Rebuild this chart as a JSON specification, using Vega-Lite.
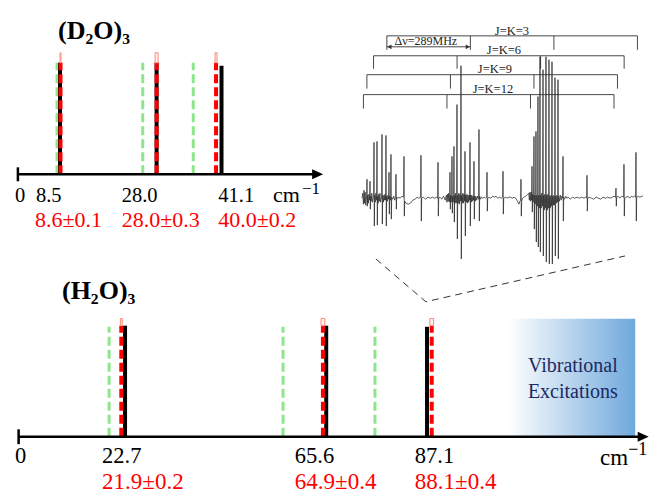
{
 "$schema": "https://vega.github.io/schema/vega-lite/v6.json",
 "width": 653, "height": 494,
 "autosize": {"type": "fit", "contains": "padding"},
 "padding": 0,
 "background": "white",
 "config": {"view": {"stroke": null}, "text": {"font": "Liberation Serif"}},
 "datasets": {
  "d2o": [
   {"kind": "origin", "v": 0, "label": "0", "lx": -0.6},
   {"kind": "calc", "v": 8.5, "base": 0, "top": 1.0, "label": "8.5", "lx": 3.65},
   {"kind": "calc", "v": 28.0, "base": 0, "top": 1.0, "label": "28.0", "lx": 20.95},
   {"kind": "calc", "v": 41.1, "base": 0, "top": 0.973, "label": "41.1", "lx": 40.45},
   {"kind": "exp", "v": 8.6, "err": 0.1, "lo": 8.5, "hi": 8.7, "base": 0, "top": 1.0, "etop": 1.09, "label": "8.6±0.1", "lx": 3.45},
   {"kind": "exp", "v": 28.0, "err": 0.3, "lo": 27.7, "hi": 28.3, "base": 0, "top": 1.0, "etop": 1.09, "label": "28.0±0.3", "lx": 20.95},
   {"kind": "exp", "v": 40.0, "err": 0.2, "lo": 39.8, "hi": 40.2, "base": 0, "top": 1.0, "etop": 1.09, "label": "40.0±0.2", "lx": 40.45},
   {"kind": "other", "v": 7.9, "base": 0, "top": 1.0},
   {"kind": "other", "v": 25.2, "base": 0, "top": 1.0},
   {"kind": "other", "v": 35.4, "base": 0, "top": 1.0}
  ],
  "h2o": [
   {"kind": "origin", "v": 0, "label": "0", "lx": -0.77},
   {"kind": "calc", "v": 22.7, "base": 0, "top": 1.0, "label": "22.7", "lx": 17.8},
   {"kind": "calc", "v": 65.6, "base": 0, "top": 1.0, "label": "65.6", "lx": 58.9},
   {"kind": "calc", "v": 87.1, "base": 0, "top": 0.99, "label": "87.1", "lx": 84.5},
   {"kind": "exp", "v": 21.9, "err": 0.2, "lo": 21.7, "hi": 22.1, "base": 0, "top": 1.0, "etop": 1.065, "label": "21.9±0.2", "lx": 17.8},
   {"kind": "exp", "v": 64.9, "err": 0.4, "lo": 64.5, "hi": 65.3, "base": 0, "top": 1.0, "etop": 1.065, "label": "64.9±0.4", "lx": 58.9},
   {"kind": "exp", "v": 88.1, "err": 0.4, "lo": 87.7, "hi": 88.5, "base": 0, "top": 1.0, "etop": 1.065, "label": "88.1±0.4", "lx": 84.5},
   {"kind": "other", "v": 19.3, "base": 0, "top": 0.99},
   {"kind": "other", "v": 56.4, "base": 0, "top": 0.99},
   {"kind": "other", "v": 76.0, "base": 0, "top": 0.99}
  ],
  "spectrum": [
   {"f":0,"I":0},{"f":3,"I":0.05},{"f":5,"I":-0.06},{"f":7,"I":0.08},{"f":9,"I":-0.05},{"f":11,"I":0.06},{"f":13,"I":-0.07},
   {"f":16.1,"I":0.02},{"f":17.3,"I":0.19},{"f":18.5,"I":-0.08},{"f":19.7,"I":0.03},{"f":22,"I":-0.05},{"f":24,"I":0.04},
   {"f":26.5,"I":-0.02},{"f":27.7,"I":0.17},{"f":28.9,"I":-0.11},{"f":30.1,"I":0.02},{"f":32,"I":-0.03},{"f":34,"I":0.05},{"f":36,"I":-0.04},
   {"f":40.3,"I":0.02},{"f":41.5,"I":0.56},{"f":42.7,"I":-0.28},{"f":43.9,"I":0.03},{"f":46,"I":-0.04},{"f":48,"I":0.05},
   {"f":50.7,"I":-0.02},{"f":51.9,"I":0.57},{"f":53.1,"I":-0.27},{"f":54.3,"I":0.02},{"f":56,"I":-0.05},{"f":58,"I":0.04},{"f":60,"I":-0.03},{"f":62,"I":0.05},{"f":64,"I":-0.04},
   {"f":68,"I":0.02},{"f":69.2,"I":0.64},{"f":70.4,"I":-0.26},{"f":71.6,"I":0.03},{"f":74,"I":-0.04},{"f":76,"I":0.03},{"f":78,"I":-0.02},{"f":80,"I":0.04},
   {"f":81.8,"I":-0.02},{"f":83.0,"I":0.63},{"f":84.2,"I":-0.28},{"f":85.4,"I":0.02},{"f":88,"I":-0.03},{"f":90,"I":0.03},
   {"f":92.2,"I":-0.01},{"f":93.4,"I":0.26},{"f":94.6,"I":-0.16},{"f":95.8,"I":0.02},{"f":98,"I":-0.02},
   {"f":99.1,"I":0.01},{"f":100.3,"I":0.44},{"f":101.5,"I":-0.21},{"f":102.7,"I":0.01},{"f":106,"I":-0.01},{"f":110,"I":0.02},{"f":113,"I":-0.02},
   {"f":116.4,"I":0.01},{"f":117.6,"I":0.24},{"f":118.8,"I":-0.11},{"f":120,"I":0.01},{"f":124,"I":0},{"f":128,"I":0.01},{"f":132,"I":0},{"f":138,"I":0.02},
   {"f":144.1,"I":0.01},{"f":145.3,"I":0.42},{"f":146.5,"I":-0.18},{"f":147.7,"I":-0.03},{"f":152,"I":-0.05},{"f":160,"I":-0.06},{"f":168,"I":-0.05},{"f":176,"I":-0.02},{"f":184,"I":-0.01},{"f":190,"I":0.01},{"f":196,"I":0},
   {"f":202.9,"I":0.01},{"f":204.1,"I":0.43},{"f":205.3,"I":-0.23},{"f":206.5,"I":0},{"f":212,"I":0.01},{"f":220,"I":-0.01},{"f":228,"I":0.01},{"f":236,"I":0},{"f":244,"I":0.01},{"f":252,"I":0},{"f":258,"I":0.01},
   {"f":261.8,"I":0},{"f":263.0,"I":0.36},{"f":264.2,"I":-0.18},{"f":265.4,"I":0},{"f":270,"I":0.01},{"f":276,"I":-0.01},{"f":282,"I":0.02},{"f":288,"I":-0.02},
   {"f":292,"I":0.03},{"f":294,"I":-0.04},{"f":296,"I":0.04},{"f":298,"I":-0.03},{"f":300,"I":0.05},{"f":302,"I":-0.04},
   {"f":303.3,"I":0.02},{"f":304.5,"I":0.26},{"f":305.7,"I":-0.11},{"f":306.9,"I":0.03},{"f":308.5,"I":-0.04},
   {"f":310.2,"I":0.03},{"f":311.4,"I":0.42},{"f":312.6,"I":-0.15},{"f":313.8,"I":0.02},{"f":315.5,"I":-0.04},
   {"f":317.1,"I":0.03},{"f":318.3,"I":0.52},{"f":319.5,"I":-0.24},{"f":320.7,"I":0.03},{"f":322,"I":-0.05},{"f":324,"I":0.05},{"f":326,"I":-0.05},
   {"f":327.5,"I":0.03},{"f":328.7,"I":0.94},{"f":329.9,"I":-0.41},{"f":331.1,"I":0.03},{"f":333,"I":-0.05},{"f":335,"I":0.05},{"f":337,"I":-0.06},{"f":339,"I":0.04},
   {"f":341.3,"I":-0.03},{"f":342.5,"I":1.33},{"f":343.7,"I":-0.61},{"f":344.9,"I":0.03},{"f":347,"I":-0.05},{"f":349,"I":0.05},{"f":351,"I":-0.05},{"f":353,"I":0.04},
   {"f":355.2,"I":-0.03},{"f":356.4,"I":0.47},{"f":357.6,"I":-0.38},{"f":358.8,"I":0.03},{"f":361,"I":-0.04},{"f":363,"I":0.04},{"f":365,"I":-0.05},{"f":367,"I":0.03},{"f":369,"I":-0.04},{"f":371,"I":0.03},
   {"f":372.5,"I":-0.02},{"f":373.7,"I":0.56},{"f":374.9,"I":-0.28},{"f":376.1,"I":0.03},{"f":378,"I":-0.04},{"f":380,"I":0.03},{"f":382,"I":-0.03},{"f":384,"I":0.02},
   {"f":386.3,"I":-0.02},{"f":387.5,"I":0.37},{"f":388.7,"I":-0.21},{"f":389.9,"I":0.02},{"f":392,"I":-0.03},{"f":394,"I":0.02},{"f":397,"I":-0.02},{"f":400,"I":0.02},
   {"f":403.6,"I":-0.01},{"f":404.8,"I":0.69},{"f":406,"I":-0.23},{"f":407.2,"I":0.02},{"f":410,"I":-0.01},{"f":414,"I":0.01},{"f":418,"I":0},{"f":423,"I":0.01},{"f":428,"I":0},
   {"f":431.3,"I":0.01},{"f":432.5,"I":0.26},{"f":433.7,"I":-0.13},{"f":434.9,"I":0},{"f":440,"I":0.01},{"f":446,"I":0},{"f":452,"I":0.02},{"f":458,"I":0.01},{"f":464,"I":0.02},{"f":470,"I":0},{"f":476,"I":0.01},{"f":482,"I":0},
   {"f":486.7,"I":0.01},{"f":487.9,"I":0.27},{"f":489.1,"I":-0.16},{"f":490.3,"I":0},{"f":496,"I":0.01},{"f":502,"I":0},{"f":508,"I":0.01},{"f":514,"I":0.01},{"f":520,"I":0},{"f":526,"I":0.01},{"f":532,"I":0},{"f":538,"I":-0.03},{"f":543,"I":-0.06},{"f":546,"I":-0.03},
   {"f":548.9,"I":-0.02},{"f":550.1,"I":0.19},{"f":551.3,"I":-0.18},{"f":552.5,"I":-0.03},{"f":556,"I":0},{"f":560,"I":0.01},{"f":566,"I":0.02},{"f":570,"I":0.03},{"f":574,"I":0.04},{"f":577,"I":0.05},{"f":579,"I":-0.02},{"f":581,"I":0.06},{"f":583,"I":-0.03},{"f":585,"I":0.06},
   {"f":587,"I":-0.02},{"f":588.2,"I":0.32},{"f":589.4,"I":-0.14},{"f":590.6,"I":0.04},{"f":592.5,"I":-0.04},
   {"f":593.9,"I":0.04},{"f":595.1,"I":0.62},{"f":596.3,"I":-0.31},{"f":597.5,"I":0.03},{"f":599.5,"I":-0.06},
   {"f":600.8,"I":0.04},{"f":602.0,"I":0.67},{"f":603.2,"I":-0.44},{"f":604.4,"I":0.03},{"f":606.5,"I":-0.08},
   {"f":607.7,"I":0.03},{"f":608.9,"I":1.02},{"f":610.1,"I":-0.49},{"f":611.3,"I":0.03},{"f":613.5,"I":-0.1},
   {"f":614.7,"I":0.04},{"f":615.9,"I":1.42},{"f":617.1,"I":-0.54},{"f":618.3,"I":0.03},{"f":620,"I":-0.1},{"f":622,"I":0.05},{"f":624,"I":-0.08},
   {"f":625.1,"I":0.03},{"f":626.3,"I":1.29},{"f":627.5,"I":-0.58},{"f":628.7,"I":0.03},{"f":630.5,"I":-0.12},{"f":632.5,"I":0.04},{"f":634.5,"I":-0.1},
   {"f":635.4,"I":0.03},{"f":636.6,"I":1.42},{"f":637.8,"I":-0.64},{"f":639,"I":0.03},{"f":641,"I":-0.12},{"f":643,"I":0.04},{"f":645,"I":-0.1},
   {"f":645.8,"I":0.03},{"f":647,"I":1.39},{"f":648.2,"I":-0.66},{"f":649.4,"I":0.02},{"f":651.5,"I":-0.1},{"f":653.5,"I":0.03},{"f":655.5,"I":-0.08},
   {"f":656.2,"I":0.03},{"f":657.4,"I":1.37},{"f":658.6,"I":-0.66},{"f":659.8,"I":0.02},{"f":662,"I":-0.07},{"f":664,"I":0.03},{"f":666,"I":-0.07},
   {"f":666.9,"I":0.02},{"f":667.8,"I":1.21},{"f":669,"I":-0.58},{"f":670.2,"I":0.02},{"f":672.5,"I":-0.05},{"f":674.5,"I":0.03},{"f":676.5,"I":-0.04},
   {"f":677.3,"I":0.02},{"f":678.2,"I":1.19},{"f":679.4,"I":-0.61},{"f":680.6,"I":0.02},{"f":683,"I":-0.03},{"f":686,"I":0.03},{"f":689,"I":-0.02},{"f":692,"I":0.02},
   {"f":694.3,"I":0},{"f":695.5,"I":0.42},{"f":696.7,"I":-0.23},{"f":697.9,"I":0.01},{"f":701,"I":-0.01},{"f":705,"I":0.02},{"f":709,"I":0},{"f":714,"I":0.01},{"f":720,"I":-0.01},{"f":728,"I":0.01},{"f":736,"I":0},{"f":744,"I":0.01},{"f":752,"I":0},{"f":760,"I":0.01},{"f":768,"I":0},{"f":774,"I":0.01},
   {"f":777.3,"I":0},{"f":778.5,"I":0.23},{"f":779.7,"I":-0.13},{"f":780.9,"I":0},{"f":786,"I":0.01},{"f":794,"I":0},{"f":802,"I":-0.01},{"f":810,"I":0.01},{"f":818,"I":0},{"f":826,"I":-0.01},{"f":834,"I":0.01},{"f":842,"I":0},{"f":850,"I":0.01},{"f":858,"I":0},{"f":866,"I":0.01},{"f":872,"I":0.02},
   {"f":877.6,"I":0.01},{"f":878.8,"I":0.10},{"f":880,"I":-0.08},{"f":881.2,"I":0.01},{"f":886,"I":0.02},{"f":892,"I":0},{"f":898,"I":0.02},
   {"f":905.3,"I":0.01},{"f":906.5,"I":0.34},{"f":907.7,"I":-0.18},{"f":908.9,"I":0},{"f":914,"I":0.01},{"f":920,"I":0.02},{"f":926,"I":0},{"f":932,"I":0.02},{"f":938,"I":0.01},{"f":943,"I":0.02},
   {"f":946.8,"I":0.01},{"f":948,"I":0.46},{"f":949.2,"I":-0.23},{"f":950.4,"I":0.01},{"f":956,"I":0.02},{"f":962,"I":0.01},{"f":968,"I":0.02},{"f":972,"I":0.02}
  ],
  "brackets": [
   {"J": "J=K=3", "f1": 86, "f2": 953, "y": 1.63, "lf": 519, "ly": 1.68},
   {"J": "J=K=6", "f1": 40, "f2": 907, "y": 1.43, "lf": 491, "ly": 1.49},
   {"J": "J=K=9", "f1": 17, "f2": 884, "y": 1.24, "lf": 460, "ly": 1.30},
   {"J": "J=K=12", "f1": 5, "f2": 872, "y": 1.04, "lf": 453, "ly": 1.10}
  ],
  "drops": [
   {"J": "J=K=3", "f": 86, "y": 1.63, "ylo": 1.49},
   {"J": "J=K=3", "f": 375, "y": 1.63, "ylo": 1.49},
   {"J": "J=K=3", "f": 664, "y": 1.63, "ylo": 1.49},
   {"J": "J=K=3", "f": 953, "y": 1.63, "ylo": 1.49},
   {"J": "J=K=6", "f": 40, "y": 1.43, "ylo": 1.30},
   {"J": "J=K=6", "f": 329, "y": 1.43, "ylo": 1.30},
   {"J": "J=K=6", "f": 618, "y": 1.43, "ylo": 1.30},
   {"J": "J=K=6", "f": 907, "y": 1.43, "ylo": 1.30},
   {"J": "J=K=9", "f": 17, "y": 1.24, "ylo": 1.10},
   {"J": "J=K=9", "f": 306, "y": 1.24, "ylo": 1.10},
   {"J": "J=K=9", "f": 595, "y": 1.24, "ylo": 1.10},
   {"J": "J=K=9", "f": 884, "y": 1.24, "ylo": 1.10},
   {"J": "J=K=12", "f": 5, "y": 1.04, "ylo": 0.90},
   {"J": "J=K=12", "f": 294, "y": 1.04, "ylo": 0.90},
   {"J": "J=K=12", "f": 583, "y": 1.04, "ylo": 0.90},
   {"J": "J=K=12", "f": 872, "y": 1.04, "ylo": 0.90}
  ],
  "delta": [{"f1": 86, "f2": 375, "y": 1.52, "fl": 95, "fr": 366, "lf": 221, "ly": 1.575, "label": "Δν=289MHz"}],
  "zoomline": [{"f": 48, "I": -0.61}, {"f": 221, "I": -1.04}, {"f": 910, "I": -0.58}],
  "one": [{"n": 1}]
 },
 "resolve": {"scale": {"x": "independent", "y": "independent"}},
 "layer": [
    {"data": {"name": "d2o"}, "transform": [{"filter": "datum.kind === 'other'"}],
     "mark": {"type": "rule", "color": "#8ee58e", "strokeWidth": 3, "strokeDash": [9, 4]},
     "encoding": {"x": {"field": "v", "type": "quantitative", "scale": {"domain": [-3.613, 128.2], "nice": false, "zero": false}, "axis": null},
      "y": {"field": "base", "type": "quantitative", "scale": {"domain": [-2.848, 1.5625], "nice": false, "zero": false}, "axis": null},
      "y2": {"field": "top"}}},
    {"data": {"name": "d2o"}, "transform": [{"filter": "datum.kind === 'calc'"}],
     "mark": {"type": "rule", "color": "#000000", "strokeWidth": 4},
     "encoding": {"x": {"field": "v", "type": "quantitative", "scale": {"domain": [-3.613, 128.2], "nice": false, "zero": false}, "axis": null},
      "y": {"field": "base", "type": "quantitative", "scale": {"domain": [-2.848, 1.5625], "nice": false, "zero": false}, "axis": null},
      "y2": {"field": "top"}}},
    {"data": {"name": "d2o"}, "transform": [{"filter": "datum.kind === 'exp'"}],
     "mark": {"type": "rule", "color": "#ff0000", "strokeWidth": 4, "strokeDash": [9, 4]},
     "encoding": {"x": {"field": "v", "type": "quantitative", "scale": {"domain": [-3.613, 128.2], "nice": false, "zero": false}, "axis": null},
      "y": {"field": "base", "type": "quantitative", "scale": {"domain": [-2.848, 1.5625], "nice": false, "zero": false}, "axis": null},
      "y2": {"field": "top"}}},
    {"data": {"name": "d2o"}, "transform": [{"filter": "datum.kind === 'exp'"}],
     "mark": {"type": "rect", "fill": "#fff0ee", "stroke": "#ff8a7a", "strokeWidth": 1},
     "encoding": {"x": {"field": "lo", "type": "quantitative", "scale": {"domain": [-3.613, 128.2], "nice": false, "zero": false}, "axis": null},
      "x2": {"field": "hi"},
      "y": {"field": "top", "type": "quantitative", "scale": {"domain": [-2.848, 1.5625], "nice": false, "zero": false}, "axis": null},
      "y2": {"field": "etop"}}},
    {"data": {"name": "one"},
     "mark": {"type": "rule", "color": "#000000", "strokeWidth": 2.5},
     "encoding": {"x": {"datum": 0, "type": "quantitative", "scale": {"domain": [-3.613, 128.2], "nice": false, "zero": false}, "axis": null},
      "x2": {"datum": 60.6},
      "y": {"datum": 0, "type": "quantitative", "scale": {"domain": [-2.848, 1.5625], "nice": false, "zero": false}, "axis": null}}},
    {"data": {"name": "one"},
     "mark": {"type": "rule", "color": "#000000", "strokeWidth": 2.5},
     "encoding": {"x": {"datum": 0, "type": "quantitative", "scale": {"domain": [-3.613, 128.2], "nice": false, "zero": false}, "axis": null},
      "y": {"datum": -0.0625, "type": "quantitative", "scale": {"domain": [-2.848, 1.5625], "nice": false, "zero": false}, "axis": null},
      "y2": {"datum": 0.0625}}},
    {"data": {"name": "one"},
     "mark": {"type": "point", "shape": "M-1,-0.9L1,0L-1,0.9Z", "size": 121, "filled": true, "color": "#000000", "opacity": 1},
     "encoding": {"x": {"datum": 60.5, "type": "quantitative", "scale": {"domain": [-3.613, 128.2], "nice": false, "zero": false}, "axis": null},
      "y": {"datum": 0, "type": "quantitative", "scale": {"domain": [-2.848, 1.5625], "nice": false, "zero": false}, "axis": null}}},
    {"data": {"name": "d2o"}, "transform": [{"filter": "datum.kind === 'calc' || datum.kind === 'origin'"}],
     "mark": {"type": "text", "font": "Liberation Serif", "align": "left", "baseline": "alphabetic", "fontSize": 20.5, "color": "#000000"},
     "encoding": {"x": {"field": "lx", "type": "quantitative", "scale": {"domain": [-3.613, 128.2], "nice": false, "zero": false}, "axis": null},
      "y": {"datum": -0.25, "type": "quantitative", "scale": {"domain": [-2.848, 1.5625], "nice": false, "zero": false}, "axis": null},
      "text": {"field": "label", "type": "nominal"}}},
    {"data": {"name": "d2o"}, "transform": [{"filter": "datum.kind === 'exp'"}],
     "mark": {"type": "text", "font": "Liberation Serif", "align": "left", "baseline": "alphabetic", "fontSize": 22, "color": "#ff0000"},
     "encoding": {"x": {"field": "lx", "type": "quantitative", "scale": {"domain": [-3.613, 128.2], "nice": false, "zero": false}, "axis": null},
      "y": {"datum": -0.473, "type": "quantitative", "scale": {"domain": [-2.848, 1.5625], "nice": false, "zero": false}, "axis": null},
      "text": {"field": "label", "type": "nominal"}}},
    {"data": {"name": "one"},
     "mark": {"type": "text", "font": "Liberation Serif", "align": "left", "baseline": "alphabetic", "fontSize": 22, "color": "#000000", "text": "cm"},
     "encoding": {"x": {"datum": 51.5, "type": "quantitative", "scale": {"domain": [-3.613, 128.2], "nice": false, "zero": false}, "axis": null},
      "y": {"datum": -0.25, "type": "quantitative", "scale": {"domain": [-2.848, 1.5625], "nice": false, "zero": false}, "axis": null}}},
    {"data": {"name": "one"},
     "mark": {"type": "text", "font": "Liberation Serif", "align": "left", "baseline": "alphabetic", "fontSize": 17, "color": "#000000", "text": "−1"},
     "encoding": {"x": {"datum": 57.35, "type": "quantitative", "scale": {"domain": [-3.613, 128.2], "nice": false, "zero": false}, "axis": null},
      "y": {"datum": -0.179, "type": "quantitative", "scale": {"domain": [-2.848, 1.5625], "nice": false, "zero": false}, "axis": null}}},
    {"data": {"name": "one"},
     "mark": {"type": "text", "font": "Liberation Serif", "align": "left", "baseline": "alphabetic", "fontSize": 26, "fontWeight": "bold", "color": "#000000", "text": "(D₂O)₃"},
     "encoding": {"x": {"datum": 8.1, "type": "quantitative", "scale": {"domain": [-3.613, 128.2], "nice": false, "zero": false}, "axis": null},
      "y": {"datum": 1.214, "type": "quantitative", "scale": {"domain": [-2.848, 1.5625], "nice": false, "zero": false}, "axis": null}}},

    {"data": {"name": "one"},
     "mark": {"type": "rect", "fill": {"gradient": "linear", "x1": 0, "y1": 0, "x2": 1, "y2": 0, "stops": [{"offset": 0, "color": "#ffffff"}, {"offset": 1, "color": "#6fa8dc"}]}},
     "encoding": {"x": {"datum": 104.4, "type": "quantitative", "scale": {"domain": [-3.967, 135.29], "nice": false, "zero": false}, "axis": null},
      "x2": {"datum": 131.5},
      "y": {"datum": 0, "type": "quantitative", "scale": {"domain": [-0.4978, 3.9327], "nice": false, "zero": false}, "axis": null},
      "y2": {"datum": 1.063}}},
    {"data": {"name": "one"},
     "mark": {"type": "text", "font": "Liberation Serif", "align": "center", "baseline": "middle", "fontSize": 20, "color": "#1b2a63", "text": ["Vibrational", "Excitations"], "lineHeight": 26},
     "encoding": {"x": {"datum": 118.2, "type": "quantitative", "scale": {"domain": [-3.967, 135.29], "nice": false, "zero": false}, "axis": null},
      "y": {"datum": 0.641, "type": "quantitative", "scale": {"domain": [-0.4978, 3.9327], "nice": false, "zero": false}, "axis": null}}},
    {"data": {"name": "h2o"}, "transform": [{"filter": "datum.kind === 'other'"}],
     "mark": {"type": "rule", "color": "#8ee58e", "strokeWidth": 3, "strokeDash": [9, 4]},
     "encoding": {"x": {"field": "v", "type": "quantitative", "scale": {"domain": [-3.967, 135.29], "nice": false, "zero": false}, "axis": null},
      "y": {"field": "base", "type": "quantitative", "scale": {"domain": [-0.4978, 3.9327], "nice": false, "zero": false}, "axis": null},
      "y2": {"field": "top"}}},
    {"data": {"name": "h2o"}, "transform": [{"filter": "datum.kind === 'calc'"}],
     "mark": {"type": "rule", "color": "#000000", "strokeWidth": 4},
     "encoding": {"x": {"field": "v", "type": "quantitative", "scale": {"domain": [-3.967, 135.29], "nice": false, "zero": false}, "axis": null},
      "y": {"field": "base", "type": "quantitative", "scale": {"domain": [-0.4978, 3.9327], "nice": false, "zero": false}, "axis": null},
      "y2": {"field": "top"}}},
    {"data": {"name": "h2o"}, "transform": [{"filter": "datum.kind === 'exp'"}],
     "mark": {"type": "rule", "color": "#ff0000", "strokeWidth": 4, "strokeDash": [9, 4]},
     "encoding": {"x": {"field": "v", "type": "quantitative", "scale": {"domain": [-3.967, 135.29], "nice": false, "zero": false}, "axis": null},
      "y": {"field": "base", "type": "quantitative", "scale": {"domain": [-0.4978, 3.9327], "nice": false, "zero": false}, "axis": null},
      "y2": {"field": "top"}}},
    {"data": {"name": "h2o"}, "transform": [{"filter": "datum.kind === 'exp'"}],
     "mark": {"type": "rect", "fill": "#fff0ee", "stroke": "#ff8a7a", "strokeWidth": 1},
     "encoding": {"x": {"field": "lo", "type": "quantitative", "scale": {"domain": [-3.967, 135.29], "nice": false, "zero": false}, "axis": null},
      "x2": {"field": "hi"},
      "y": {"field": "top", "type": "quantitative", "scale": {"domain": [-0.4978, 3.9327], "nice": false, "zero": false}, "axis": null},
      "y2": {"field": "etop"}}},
    {"data": {"name": "one"},
     "mark": {"type": "rule", "color": "#000000", "strokeWidth": 2.5},
     "encoding": {"x": {"datum": 0, "type": "quantitative", "scale": {"domain": [-3.967, 135.29], "nice": false, "zero": false}, "axis": null},
      "x2": {"datum": 133.3},
      "y": {"datum": 0, "type": "quantitative", "scale": {"domain": [-0.4978, 3.9327], "nice": false, "zero": false}, "axis": null}}},
    {"data": {"name": "one"},
     "mark": {"type": "rule", "color": "#000000", "strokeWidth": 2.5},
     "encoding": {"x": {"datum": 0, "type": "quantitative", "scale": {"domain": [-3.967, 135.29], "nice": false, "zero": false}, "axis": null},
      "y": {"datum": -0.067, "type": "quantitative", "scale": {"domain": [-0.4978, 3.9327], "nice": false, "zero": false}, "axis": null},
      "y2": {"datum": 0.067}}},
    {"data": {"name": "one"},
     "mark": {"type": "point", "shape": "M-1,-0.9L1,0L-1,0.9Z", "size": 121, "filled": true, "color": "#000000", "opacity": 1},
     "encoding": {"x": {"datum": 133.2, "type": "quantitative", "scale": {"domain": [-3.967, 135.29], "nice": false, "zero": false}, "axis": null},
      "y": {"datum": 0, "type": "quantitative", "scale": {"domain": [-0.4978, 3.9327], "nice": false, "zero": false}, "axis": null}}},
    {"data": {"name": "h2o"}, "transform": [{"filter": "datum.kind === 'calc' || datum.kind === 'origin'"}],
     "mark": {"type": "text", "font": "Liberation Serif", "align": "left", "baseline": "alphabetic", "fontSize": 22.5, "color": "#000000"},
     "encoding": {"x": {"field": "lx", "type": "quantitative", "scale": {"domain": [-3.967, 135.29], "nice": false, "zero": false}, "axis": null},
      "y": {"datum": -0.238, "type": "quantitative", "scale": {"domain": [-0.4978, 3.9327], "nice": false, "zero": false}, "axis": null},
      "text": {"field": "label", "type": "nominal"}}},
    {"data": {"name": "h2o"}, "transform": [{"filter": "datum.kind === 'exp'"}],
     "mark": {"type": "text", "font": "Liberation Serif", "align": "left", "baseline": "alphabetic", "fontSize": 23, "color": "#ff0000"},
     "encoding": {"x": {"field": "lx", "type": "quantitative", "scale": {"domain": [-3.967, 135.29], "nice": false, "zero": false}, "axis": null},
      "y": {"datum": -0.468, "type": "quantitative", "scale": {"domain": [-0.4978, 3.9327], "nice": false, "zero": false}, "axis": null},
      "text": {"field": "label", "type": "nominal"}}},
    {"data": {"name": "one"},
     "mark": {"type": "text", "font": "Liberation Serif", "align": "left", "baseline": "alphabetic", "fontSize": 23, "color": "#000000", "text": "cm"},
     "encoding": {"x": {"datum": 124.0, "type": "quantitative", "scale": {"domain": [-3.967, 135.29], "nice": false, "zero": false}, "axis": null},
      "y": {"datum": -0.253, "type": "quantitative", "scale": {"domain": [-0.4978, 3.9327], "nice": false, "zero": false}, "axis": null}}},
    {"data": {"name": "one"},
     "mark": {"type": "text", "font": "Liberation Serif", "align": "left", "baseline": "alphabetic", "fontSize": 18, "color": "#000000", "text": "−1"},
     "encoding": {"x": {"datum": 130.0, "type": "quantitative", "scale": {"domain": [-3.967, 135.29], "nice": false, "zero": false}, "axis": null},
      "y": {"datum": -0.166, "type": "quantitative", "scale": {"domain": [-0.4978, 3.9327], "nice": false, "zero": false}, "axis": null}}},
    {"data": {"name": "one"},
     "mark": {"type": "text", "font": "Liberation Serif", "align": "left", "baseline": "alphabetic", "fontSize": 26, "fontWeight": "bold", "color": "#000000", "text": "(H₂O)₃"},
     "encoding": {"x": {"datum": 9.25, "type": "quantitative", "scale": {"domain": [-3.967, 135.29], "nice": false, "zero": false}, "axis": null},
      "y": {"datum": 1.242, "type": "quantitative", "scale": {"domain": [-0.4978, 3.9327], "nice": false, "zero": false}, "axis": null}}},

    {"data": {"name": "spectrum"},
     "mark": {"type": "line", "color": "#2a2a2a", "strokeWidth": 0.75},
     "encoding": {"x": {"field": "f", "type": "quantitative", "scale": {"domain": [-1252.5, 1006.9], "nice": false, "zero": false}, "axis": null},
      "y": {"field": "I", "type": "quantitative", "scale": {"domain": [-2.95, 1.99], "nice": false, "zero": false}, "axis": null}}},
    {"data": {"name": "brackets"},
     "mark": {"type": "rule", "color": "#333333", "strokeWidth": 0.9},
     "encoding": {"x": {"field": "f1", "type": "quantitative", "scale": {"domain": [-1252.5, 1006.9], "nice": false, "zero": false}, "axis": null},
      "x2": {"field": "f2"},
      "y": {"field": "y", "type": "quantitative", "scale": {"domain": [-2.95, 1.99], "nice": false, "zero": false}, "axis": null}}},
    {"data": {"name": "drops"},
     "mark": {"type": "rule", "color": "#333333", "strokeWidth": 0.9},
     "encoding": {"x": {"field": "f", "type": "quantitative", "scale": {"domain": [-1252.5, 1006.9], "nice": false, "zero": false}, "axis": null},
      "y": {"field": "y", "type": "quantitative", "scale": {"domain": [-2.95, 1.99], "nice": false, "zero": false}, "axis": null},
      "y2": {"field": "ylo"}}},
    {"data": {"name": "brackets"},
     "mark": {"type": "text", "font": "Liberation Serif", "align": "center", "baseline": "middle", "fontSize": 12.5, "color": "#222222"},
     "encoding": {"x": {"field": "lf", "type": "quantitative", "scale": {"domain": [-1252.5, 1006.9], "nice": false, "zero": false}, "axis": null},
      "y": {"field": "ly", "type": "quantitative", "scale": {"domain": [-2.95, 1.99], "nice": false, "zero": false}, "axis": null},
      "text": {"field": "J", "type": "nominal"}}},
    {"data": {"name": "delta"},
     "mark": {"type": "rule", "color": "#333333", "strokeWidth": 0.9},
     "encoding": {"x": {"field": "f1", "type": "quantitative", "scale": {"domain": [-1252.5, 1006.9], "nice": false, "zero": false}, "axis": null},
      "x2": {"field": "f2"},
      "y": {"field": "y", "type": "quantitative", "scale": {"domain": [-2.95, 1.99], "nice": false, "zero": false}, "axis": null}}},
    {"data": {"name": "delta"},
     "mark": {"type": "point", "shape": "triangle-left", "size": 22, "filled": true, "color": "#333333", "opacity": 1},
     "encoding": {"x": {"field": "fl", "type": "quantitative", "scale": {"domain": [-1252.5, 1006.9], "nice": false, "zero": false}, "axis": null},
      "y": {"field": "y", "type": "quantitative", "scale": {"domain": [-2.95, 1.99], "nice": false, "zero": false}, "axis": null}}},
    {"data": {"name": "delta"},
     "mark": {"type": "point", "shape": "triangle-right", "size": 22, "filled": true, "color": "#333333", "opacity": 1},
     "encoding": {"x": {"field": "fr", "type": "quantitative", "scale": {"domain": [-1252.5, 1006.9], "nice": false, "zero": false}, "axis": null},
      "y": {"field": "y", "type": "quantitative", "scale": {"domain": [-2.95, 1.99], "nice": false, "zero": false}, "axis": null}}},
    {"data": {"name": "delta"},
     "mark": {"type": "text", "font": "Liberation Serif", "align": "center", "baseline": "middle", "fontSize": 12, "color": "#222222"},
     "encoding": {"x": {"field": "lf", "type": "quantitative", "scale": {"domain": [-1252.5, 1006.9], "nice": false, "zero": false}, "axis": null},
      "y": {"field": "ly", "type": "quantitative", "scale": {"domain": [-2.95, 1.99], "nice": false, "zero": false}, "axis": null},
      "text": {"field": "label", "type": "nominal"}}},
    {"data": {"name": "zoomline"},
     "mark": {"type": "line", "color": "#333333", "strokeWidth": 1, "strokeDash": [7, 5]},
     "encoding": {"x": {"field": "f", "type": "quantitative", "scale": {"domain": [-1252.5, 1006.9], "nice": false, "zero": false}, "axis": null},
      "y": {"field": "I", "type": "quantitative", "scale": {"domain": [-2.95, 1.99], "nice": false, "zero": false}, "axis": null}}}
 ]
}
